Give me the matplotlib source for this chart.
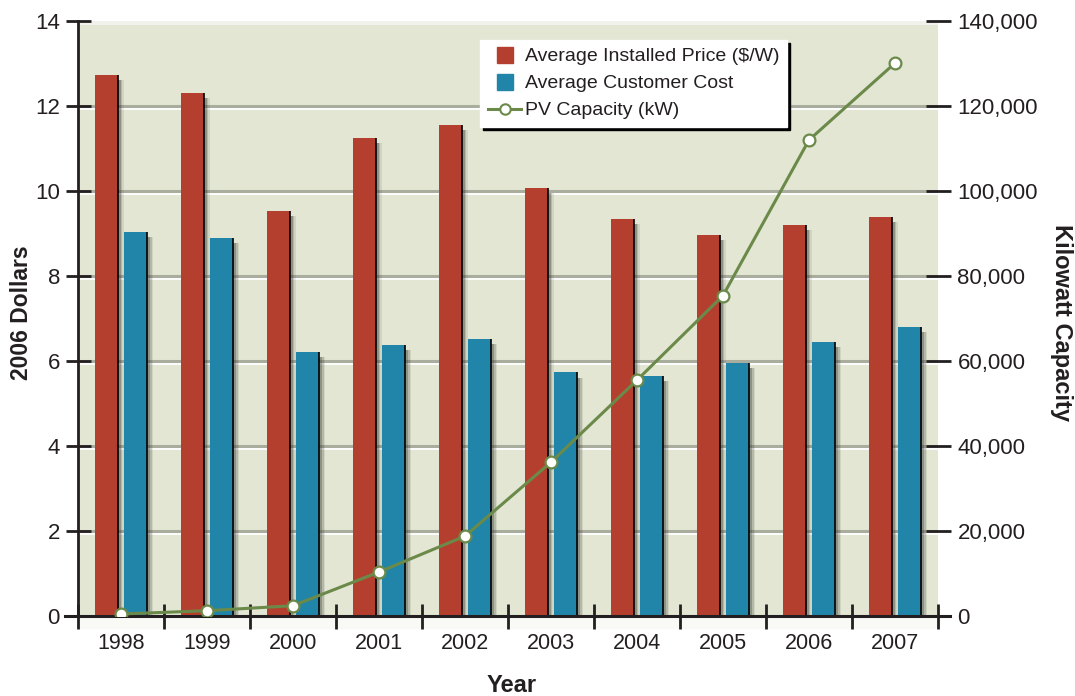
import matplotlib
matplotlib.use("Agg")
import matplotlib.pyplot as plt
import numpy as np
from matplotlib.lines import Line2D

plt.rcParams['font.family'] = ['Liberation Sans', 'DejaVu Sans']

years = ['1998', '1999', '2000', '2001', '2002', '2003', '2004', '2005', '2006', '2007']
installed_price = [12.73, 12.31, 9.53, 11.25, 11.55, 10.07, 9.34, 8.96, 9.20, 9.39]
customer_cost = [9.04, 8.89, 6.22, 6.37, 6.52, 5.73, 5.65, 5.95, 6.45, 6.80]
pv_capacity = [470, 1250, 2420, 10350, 18800, 36200, 55500, 75400, 112000, 130100]

left_ticks = [0, 2, 4, 6, 8, 10, 12, 14]
right_ticks = [0, 20000, 40000, 60000, 80000, 100000, 120000, 140000]

RED = '#b53f2e'
BLUE = '#2085a8'
GREEN = '#6b8a4a'
BG = '#e2e6d3'
TXT = '#231f20'

W, H = 1075, 696
fig = plt.figure(figsize=(W / 100, H / 100), dpi=100)
ax = fig.add_axes([78/W, 80/H, 860/W, 595/H])
ax.set_facecolor(BG)
ax.set_xlim(-0.5, 9.5)
ax.set_ylim(0, 14)

x = np.arange(len(years))
w = 0.26
off = 0.17

# gridlines
for v in left_ticks[1:-1]:
    ax.axhline(v - 0.055, color='white', lw=2.0, zorder=1)
    ax.axhline(v, color='#a9ad9e', lw=2.2, zorder=1.1)
ax.axhline(14 - 0.04, color='#f1f2ec', lw=3, zorder=1)

# bars with shadows
for vals, dx, col in [(installed_price, -off, RED), (customer_cost, off, BLUE)]:
    for s, a in [(0.075, 0.10), (0.055, 0.18), (0.035, 0.3)]:
        ax.bar(x + dx + s, np.array(vals) - 0.12, w, bottom=0, color='#3a3a30', alpha=a,
               zorder=2, linewidth=0)
    ax.bar(x + dx, vals, w, color=col, zorder=3, linewidth=0)
    ax.vlines(x + dx + w / 2, 0, vals, color='black', lw=1.2, zorder=3.5)

# light band below axis
ax.axhspan(-0.28, 0, color='#f9f9f6', zorder=0, clip_on=False)

# spines
for sp in ['top', 'right', 'bottom']:
    ax.spines[sp].set_visible(False)
ax.spines['left'].set_linewidth(2)
ax.spines['left'].set_color(TXT)
ax.plot([-13/860, 1 + 12/860], [0, 0], transform=ax.transAxes, color=TXT, lw=2.2,
        clip_on=False, zorder=6)

ax.set_yticks(left_ticks)
ax.set_yticklabels([str(v) for v in left_ticks])
ax.tick_params(axis='y', direction='inout', length=18, width=2, color=TXT,
               labelsize=16, labelcolor=TXT, pad=4)

ax.set_xticks(x)
ax.set_xticklabels(years)
ax.set_xticks(np.arange(-0.5, 10, 1), minor=True)
ax.tick_params(axis='x', which='major', length=0, labelsize=15.5, labelcolor=TXT, pad=12)
ax.tick_params(axis='x', which='minor', direction='inout', length=18, width=2, color=TXT)

ax2 = ax.twinx()
ax2.set_ylim(0, 140000)
for sp in ['top', 'right', 'bottom', 'left']:
    ax2.spines[sp].set_visible(False)
ax2.set_yticks(right_ticks)
ax2.set_yticklabels([f'{v:,}' for v in right_ticks])
ax2.tick_params(axis='y', direction='inout', length=18, width=2, color=TXT,
                labelsize=16, labelcolor=TXT, pad=5)
ax2.plot(x, pv_capacity, color=GREEN, lw=2.2, marker='o', markersize=8.5,
         markerfacecolor='white', markeredgecolor=GREEN, markeredgewidth=1.6, zorder=5)

# axis titles
fig.text(22/W, 1 - 313/H, '2006 Dollars', rotation=90, ha='center', va='center',
         fontsize=16.5, fontweight='bold', color=TXT)
fig.text(1061/W, 1 - 323/H, 'Kilowatt Capacity', rotation=-90, ha='center', va='center',
         fontsize=17, fontweight='bold', color=TXT)
fig.text(512/W, 1 - 685/H, 'Year', ha='center', va='center',
         fontsize=17, fontweight='bold', color=TXT)

handles = [
    Line2D([], [], linestyle='none', marker='s', markersize=12, color=RED),
    Line2D([], [], linestyle='none', marker='s', markersize=12, color=BLUE),
    Line2D([], [], color=GREEN, lw=2.2, marker='o', markersize=7.5,
           markerfacecolor='white', markeredgecolor=GREEN, markeredgewidth=1.5),
]
labels = ['Average Installed Price ($/W)', 'Average Customer Cost', 'PV Capacity (kW)']
leg = ax2.legend(handles, labels, loc='upper left', bbox_to_anchor=(0.468, 0.968),
                 fontsize=14, frameon=True, fancybox=False, framealpha=1,
                 edgecolor='white', facecolor='white',
                 shadow={'color': 'black', 'alpha': 1},
                 handlelength=1.7, handletextpad=0.2, borderpad=0.4,
                 labelspacing=0.48, borderaxespad=0)
for t in leg.get_texts():
    t.set_color(TXT)

fig.savefig('out.png', dpi=100)
